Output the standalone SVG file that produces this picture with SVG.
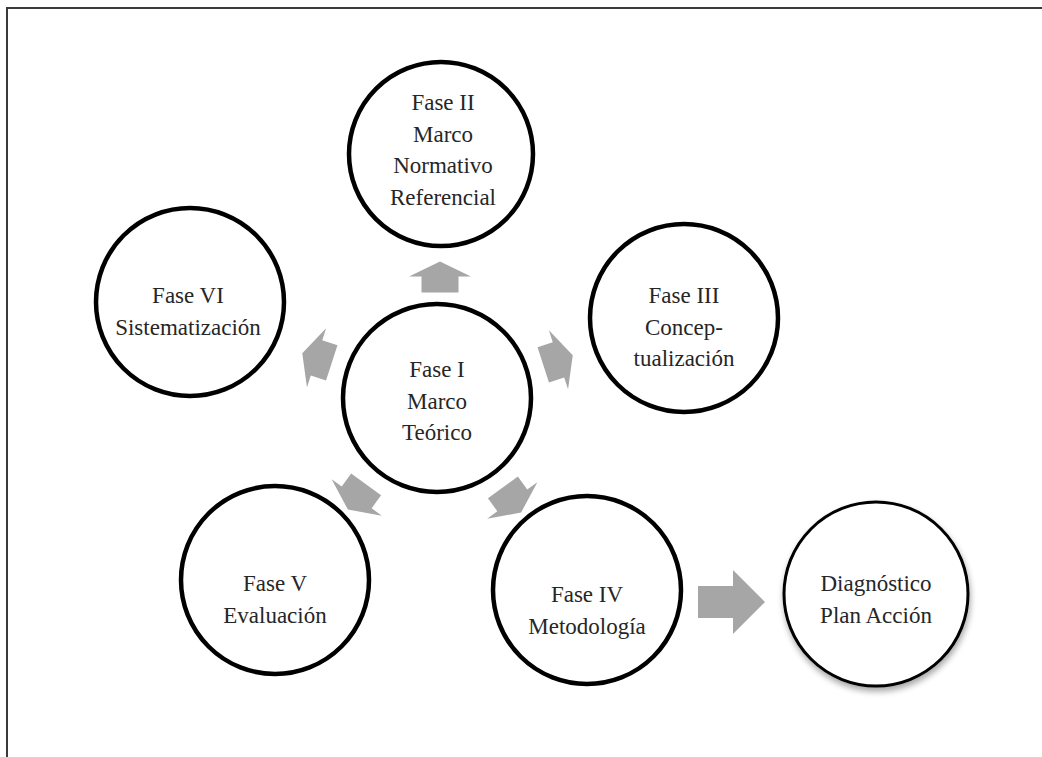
<svg xmlns="http://www.w3.org/2000/svg" width="1042" height="757" viewBox="0 0 1042 757">
  <defs>
    <style>
      .node { fill: #ffffff; stroke: #000000; stroke-width: 4.5; }
      .final { fill: #ffffff; stroke: #000000; stroke-width: 3; filter: url(#shadow); }
      .label { font-family: "Liberation Serif", "DejaVu Serif", serif; font-size: 23px; fill: #262626; text-anchor: middle; }
      .arrow { fill: #a6a6a6; }
    </style>
    <filter id="shadow" x="-20%" y="-20%" width="140%" height="150%">
      <feGaussianBlur in="SourceAlpha" stdDeviation="3"/>
      <feOffset dx="1" dy="4" result="b"/>
      <feComponentTransfer><feFuncA type="linear" slope="0.35"/></feComponentTransfer>
      <feMerge><feMergeNode/><feMergeNode in="SourceGraphic"/></feMerge>
    </filter>
    <!-- block arrow pointing right, centred on the origin -->
    <path id="blk" d="M -15.5 -18.5 L 0.5 -18.5 L 0.5 -31 L 15.5 0 L 0.5 31 L 0.5 18.5 L -15.5 18.5 Z"/>
  </defs>

  <!-- frame -->
  <path d="M 7 757 L 7 8 L 1042 8" fill="none" stroke="#3a3a3a" stroke-width="2"/>

  <g id="connectors">
    <use href="#blk" class="arrow" transform="translate(440 277) rotate(-90)"/>
    <use href="#blk" class="arrow" transform="translate(558 360) rotate(-18)"/>
    <use href="#blk" class="arrow" transform="translate(512 500) rotate(54)"/>
    <use href="#blk" class="arrow" transform="translate(357 497) rotate(126)"/>
    <use href="#blk" class="arrow" transform="translate(317 358) rotate(198)"/>
    <path class="arrow" d="M 698 586 L 733 586 L 733 570 L 765 602 L 733 634 L 733 618 L 698 618 Z"/>
  </g>

  <g id="fase-1">
    <circle class="node" cx="437" cy="398" r="94"/>
    <text class="label"><tspan x="437" y="377">Fase I</tspan><tspan x="437" y="408.5">Marco</tspan><tspan x="437" y="440">Teórico</tspan></text>
  </g>
  <g id="fase-2">
    <circle class="node" cx="441" cy="154" r="92"/>
    <text class="label"><tspan x="443" y="110">Fase II</tspan><tspan x="443" y="141.5">Marco</tspan><tspan x="443" y="173">Normativo</tspan><tspan x="443" y="204.5">Referencial</tspan></text>
  </g>
  <g id="fase-3">
    <circle class="node" cx="684" cy="318" r="94"/>
    <text class="label"><tspan x="684" y="303">Fase III</tspan><tspan x="684" y="334.5">Concep-</tspan><tspan x="684" y="366">tualización</tspan></text>
  </g>
  <g id="fase-4">
    <circle class="node" cx="587" cy="590" r="94"/>
    <text class="label"><tspan x="587" y="602">Fase IV</tspan><tspan x="587" y="633.5">Metodología</tspan></text>
  </g>
  <g id="fase-5">
    <circle class="node" cx="275" cy="580" r="94"/>
    <text class="label"><tspan x="275" y="591">Fase V</tspan><tspan x="275" y="622.5">Evaluación</tspan></text>
  </g>
  <g id="fase-6">
    <circle class="node" cx="190" cy="302" r="94"/>
    <text class="label"><tspan x="188" y="303">Fase VI</tspan><tspan x="188" y="334.5">Sistematización</tspan></text>
  </g>
  <g id="diagnostico">
    <circle class="final" cx="876" cy="594" r="92"/>
    <text class="label"><tspan x="876" y="591">Diagnóstico</tspan><tspan x="876" y="622.5">Plan Acción</tspan></text>
  </g>
</svg>
